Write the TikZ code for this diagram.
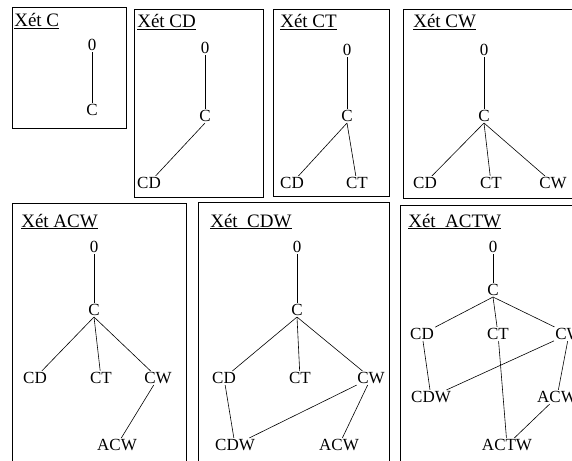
\documentclass[tikz,border=0pt]{standalone}
\usepackage{fontspec}
\setmainfont{Liberation Serif}
\usetikzlibrary{positioning}
\tikzset{lbl/.style={inner sep=1pt,font=\fontsize{17}{19}\selectfont}}
\tikzset{ttl/.style={anchor=base west,inner sep=0pt,font=\fontsize{19}{21}\selectfont}}
\tikzset{frame/.style={draw,line width=0.8pt}}
\begin{document}
\begin{tikzpicture}[x=1pt,y=-1pt,line width=0.6pt]
\useasboundingbox (0,0) rectangle (572,460);
\clip (0,0) rectangle (572,460);
    \draw[frame] (12,7) rectangle (126,128);
        \node[ttl] (t1) at (14,27) {\underline{Xét C}};
        \node[lbl] (a0) at (92,45) {0};
        \node[lbl] (ac) at (92,110) {C};
    \path (a0) edge (ac);
    \draw[frame] (134,9) rectangle (263,197);
        \node[ttl] (t2) at (137,28) {\underline{Xét CD}};
        \node[lbl] (b0) at (205,48) {0};
        \node[lbl] (bc) at (205,116) {C};
        \node[lbl] (bcd) at (149,183) {CD};
    \path (b0) edge (bc)
          (bc.south) edge (bcd);
    \draw[frame] (273,9) rectangle (389,196);
        \node[ttl] (t3) at (280,28) {\underline{Xét CT}};
        \node[lbl] (c0) at (347,50) {0};
        \node[lbl] (cc) at (347,116) {C};
        \node[lbl] (ccd) at (292,183) {CD};
        \node[lbl] (cct) at (357,183) {CT};
    \path (c0) edge (cc)
          (cc.south) edge (ccd)
          (cc.south) edge (cct);
    \draw[frame] (403,9) rectangle (580,198);
        \node[ttl] (t4) at (413,28) {\underline{Xét CW}};
        \node[lbl] (d0) at (484,50) {0};
        \node[lbl] (dc) at (484,116) {C};
        \node[lbl] (dcd) at (425,183) {CD};
        \node[lbl] (dct) at (491,183) {CT};
        \node[lbl] (dcw) at (553,183) {CW};
    \path (d0) edge (dc)
          (dc.south) edge (dcd)
          (dc.south) edge (dct)
          (dc.south) edge (dcw);
    \draw[frame] (12,203) rectangle (186,470);
        \node[ttl] (t5) at (21,227) {\underline{Xét ACW}};
        \node[lbl] (e0) at (94,247) {0};
        \node[lbl] (ec) at (94,310) {C};
        \node[lbl] (ecd) at (35,378) {CD};
        \node[lbl] (ect) at (101,378) {CT};
        \node[lbl] (ecw) at (158,378) {CW};
        \node[lbl] (eacw) at (117,445) {ACW};
    \path (e0) edge (ec)
          (ec.south) edge (ecd)
          (ec.south) edge (ect)
          (ec.south) edge (ecw)
          (ecw) edge (eacw);
    \draw[frame] (198,202) rectangle (389,470);
        \node[ttl] (t6) at (210,227) {\underline{Xét\ \ CDW}};
        \node[lbl] (f0) at (297,247) {0};
        \node[lbl] (fc) at (297,310) {C};
        \node[lbl] (fcd) at (224,378) {CD};
        \node[lbl] (fct) at (300,378) {CT};
        \node[lbl] (fcw) at (371,378) {CW};
        \node[lbl] (fcdw) at (235,445) {CDW};
        \node[lbl] (facw) at (339,445) {ACW};
    \path (f0) edge (fc)
          (fc.south) edge (fcd)
          (fc.south) edge (fct)
          (fc.south) edge (fcw)
          (fcd) edge (fcdw)
          (fcw) edge (fcdw)
          (fcw) edge (facw);
    \draw[frame] (400,205) rectangle (590,470);
        \node[ttl] (t7) at (408,227) {\underline{Xét\ \ ACTW}};
        \node[lbl] (g0) at (493,247) {0};
        \node[lbl] (gc) at (493,290) {C};
        \node[lbl] (gcd) at (422,334) {CD};
        \node[lbl] (gct) at (498,334) {CT};
        \node[lbl] (gcw) at (569,334) {CW};
        \node[lbl] (gcdw) at (431,397) {CDW};
        \node[lbl] (gacw) at (557,397) {ACW};
        \node[lbl] (gactw) at (507,445) {ACTW};
    \path (g0) edge (gc)
          (gc.south) edge (gcd)
          (gc.south) edge (gct)
          (gc.south) edge (gcw)
          (gcd) edge (gcdw)
          (gcw) edge (gcdw)
          (gcw) edge (gacw)
          (gct) edge (gactw)
          (gacw) edge (gactw);
\end{tikzpicture}
\end{document}
